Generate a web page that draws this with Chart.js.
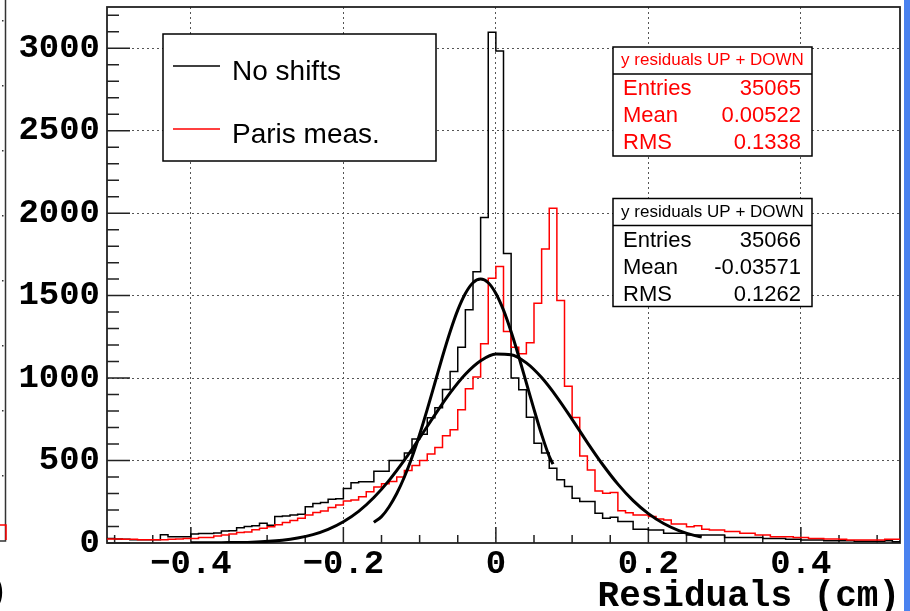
<!DOCTYPE html>
<html>
<head>
<meta charset="utf-8">
<script src="https://cdn.jsdelivr.net/npm/chart.js@4.4.1/dist/chart.umd.min.js"></script>
<style>
  html, body { margin: 0; padding: 0; background: #fff; }
  canvas { display: block; }
</style>
</head>
<body>
<canvas id="residualsChart" width="910" height="611"></canvas>
<script>
// histogram binning (cm)
const binLow = -0.51;
const binWidth = 0.01;

// "No shifts" entries per bin
const noShifts = [
  28, 25, 22, 20, 20, 20, 20, 50, 38, 38,
  38, 55, 58, 58, 60, 73, 75, 93, 100, 105,
  119, 108, 160, 164, 170, 175, 220, 240, 245, 265,
  268, 330, 365, 372, 372, 435, 435, 500, 500, 545,
  630, 660, 760, 820, 930, 1040, 1187, 1415, 1645, 1974,
  3097, 2983, 1756, 1000, 929, 763, 605, 545, 453, 383,
  342, 271, 251, 251, 180, 150, 156, 130, 130, 83,
  83, 79, 79, 59, 59, 59, 49, 49, 49, 49,
  49, 34, 34, 34, 34, 34, 28, 28, 28, 22,
  22, 18, 18, 18, 14, 14, 14, 14, 10, 10,
  10, 10, 14, 8
];

// "Paris meas." entries per bin
const parisMeas = [
  25, 24, 22, 22, 20, 20, 20, 20, 22, 24,
  28, 28, 34, 34, 43, 49, 55, 63, 67, 80,
  89, 99, 110, 124, 136, 150, 170, 185, 194, 215,
  231, 255, 261, 281, 310, 340, 360, 373, 400, 440,
  470, 500, 540, 579, 650, 686, 808, 935, 1006, 1208,
  1605, 1677, 1282, 1187, 1147, 1214, 1454, 1782, 2030, 1470,
  950, 761, 528, 443, 316, 302, 306, 196, 184, 170,
  170, 160, 146, 140, 115, 115, 99, 105, 83, 79,
  79, 69, 69, 59, 59, 49, 49, 38, 38, 38,
  34, 34, 28, 28, 24, 24, 22, 18, 18, 18,
  18, 18, 22, 22
];

// gaussian fit curves
const fitNarrowX = [-0.16, -0.15, -0.14, -0.13, -0.12, -0.11, -0.10, -0.09, -0.08, -0.07, -0.06, -0.05, -0.04,
  -0.03, -0.02, -0.01, 0.00, 0.01, 0.02, 0.03, 0.04, 0.05, 0.06, 0.07, 0.075];
const fitNarrowY = [125, 160, 220, 300, 400, 520, 658, 810, 970, 1131, 1281, 1412, 1513,
  1578, 1600, 1578, 1513, 1412, 1281, 1131, 970, 810, 658, 525, 478];

const fitWideX = [-0.40, -0.36, -0.32, -0.28, -0.26, -0.24, -0.22, -0.20, -0.18, -0.16, -0.14, -0.12, -0.10,
  -0.08, -0.06, -0.04, -0.02, 0.00, 0.02, 0.04, 0.06, 0.08, 0.10, 0.12, 0.14, 0.16, 0.18, 0.20, 0.22,
  0.24, 0.26, 0.27];
const fitWideY = [1, 2, 5, 17, 30, 51, 83, 129, 192, 276, 380, 502, 637,
  777, 910, 1023, 1105, 1146, 1142, 1092, 1003, 885, 750, 609, 476, 357, 257, 178, 118,
  75, 46, 36];

const xTicks = [-0.4, -0.2, 0, 0.2, 0.4];
const xTickLabels = ['\u22120.4', '\u22120.2', '0', '0.2', '0.4'];
const yTicks = [0, 500, 1000, 1500, 2000, 2500, 3000];

const statsTitle = 'y residuals UP + DOWN';
const statsParis = [['Entries', '35065'], ['Mean', '0.00522'], ['RMS', '0.1338']];
const statsNoShift = [['Entries', '35066'], ['Mean', '-0.03571'], ['RMS', '0.1262']];

// bin contents -> points at the low edge of each bin, plus the closing edge
function histPoints(values) {
  const pts = values.map((v, i) => ({ x: binLow + i * binWidth, y: v }));
  pts.push({ x: binLow + values.length * binWidth, y: values[values.length - 1] });
  return pts;
}

function curvePoints(xs, ys) {
  return xs.map((x, i) => ({ x: x, y: ys[i] }));
}

const axisFont = { family: 'Liberation Mono', size: 34, weight: 'bold' };

// ROOT-like pad: frame, inward ticks, legend and stat boxes
const rootPad = {
  id: 'rootPad',
  beforeDraw(chart) {
    const ctx = chart.ctx;
    ctx.save();
    ctx.fillStyle = '#fff';
    ctx.fillRect(0, 0, chart.width, chart.height);
    // edge of the window on the right
    ctx.fillStyle = '#4a82ef';
    ctx.fillRect(904, 0, 6, chart.height);
    // neighbouring pad cut off at the left
    ctx.strokeStyle = '#333';
    ctx.lineWidth = 1.5;
    ctx.beginPath();
    ctx.moveTo(5.5, 0);
    ctx.lineTo(5.5, 541);
    ctx.lineTo(0, 541);
    ctx.stroke();
    ctx.fillStyle = '#333';
    for (let y = 20; y < 540; y += 65) ctx.fillRect(2, y, 1.5, 1.5);
    ctx.strokeStyle = '#f00';
    ctx.beginPath();
    ctx.moveTo(0, 525);
    ctx.lineTo(6, 525);
    ctx.lineTo(6, 540);
    ctx.stroke();
    ctx.fillStyle = '#000';
    ctx.font = 'bold 34px "Liberation Mono"';
    ctx.textAlign = 'right';
    ctx.textBaseline = 'middle';
    ctx.fillText(')', 8, 592);
    ctx.restore();
  },
  beforeDatasetsDraw(chart) {
    const { ctx, chartArea: a, scales } = chart;
    ctx.save();
    ctx.strokeStyle = '#222';
    ctx.lineWidth = 1.5;
    ctx.beginPath();
    for (let i = -10; i <= 10; i++) {
      const px = scales.x.getPixelForValue(i * 0.05);
      const len = i % 4 === 0 ? 16 : 8;
      ctx.moveTo(px, a.bottom);
      ctx.lineTo(px, a.bottom - len);
    }
    for (let v = 0; v <= 3200; v += 100) {
      const py = scales.y.getPixelForValue(v);
      const len = v % 500 === 0 ? 23 : 12;
      ctx.moveTo(a.left, py);
      ctx.lineTo(a.left + len, py);
    }
    ctx.stroke();
    ctx.lineWidth = 1.8;
    ctx.strokeRect(a.left, a.top, a.right - a.left, a.bottom - a.top);
    ctx.restore();
  },
  afterDatasetsDraw(chart) {
    const ctx = chart.ctx;
    ctx.save();
    // legend
    ctx.fillStyle = '#fff';
    ctx.fillRect(163, 34, 273, 127);
    ctx.strokeStyle = '#000';
    ctx.lineWidth = 1.5;
    ctx.strokeRect(163, 34, 273, 127);
    const keyed = chart.data.datasets.filter(d => d.inKey);
    ctx.font = '28px "Liberation Sans"';
    ctx.textAlign = 'left';
    ctx.textBaseline = 'alphabetic';
    keyed.forEach((d, i) => {
      const y = 66 + i * 63;
      ctx.strokeStyle = d.borderColor;
      ctx.lineWidth = 1.5;
      ctx.beginPath();
      ctx.moveTo(173, y);
      ctx.lineTo(220, y);
      ctx.stroke();
      ctx.fillStyle = '#000';
      ctx.fillText(d.label, 232, y + 14);
    });
    drawStats(ctx, 613, 47, 109, 27, '#f00', statsParis);
    drawStats(ctx, 613, 198.5, 108, 27, '#000', statsNoShift);
    ctx.restore();
  }
};

function drawStats(ctx, x, y, h, headH, color, rows) {
  const w = 199;
  ctx.fillStyle = '#fff';
  ctx.fillRect(x, y, w, h);
  ctx.strokeStyle = '#000';
  ctx.lineWidth = 1.5;
  ctx.strokeRect(x, y, w, h);
  ctx.beginPath();
  ctx.moveTo(x, y + headH);
  ctx.lineTo(x + w, y + headH);
  ctx.stroke();
  ctx.fillStyle = color;
  ctx.textBaseline = 'alphabetic';
  ctx.font = '17px "Liberation Sans"';
  ctx.textAlign = 'center';
  ctx.fillText(statsTitle, x + w / 2, y + 18);
  ctx.font = '22px "Liberation Sans"';
  rows.forEach((r, i) => {
    const by = y + 48 + i * 27;
    ctx.textAlign = 'left';
    ctx.fillText(r[0], x + 10, by);
    ctx.textAlign = 'right';
    ctx.fillText(r[1], x + 188, by);
  });
}

new Chart(document.getElementById('residualsChart'), {
  type: 'line',
  data: {
    datasets: [
      {
        label: 'No shifts',
        inKey: true,
        data: histPoints(noShifts),
        borderColor: '#000',
        borderWidth: 1.5,
        stepped: true,
        pointRadius: 0,
        order: 2
      },
      {
        label: 'Paris meas.',
        inKey: true,
        data: histPoints(parisMeas),
        borderColor: '#ff0000',
        borderWidth: 1.5,
        stepped: true,
        pointRadius: 0,
        order: 1
      },
      {
        label: 'fit',
        data: curvePoints(fitNarrowX, fitNarrowY),
        borderColor: '#000',
        borderWidth: 3,
        cubicInterpolationMode: 'monotone',
        pointRadius: 0,
        order: 0
      },
      {
        label: 'fit',
        data: curvePoints(fitWideX, fitWideY),
        borderColor: '#000',
        borderWidth: 3,
        cubicInterpolationMode: 'monotone',
        pointRadius: 0,
        order: 0
      }
    ]
  },
  options: {
    responsive: false,
    animation: false,
    devicePixelRatio: 1,
    layout: { padding: { left: 0, right: 10, top: 7, bottom: 0 } },
    plugins: {
      legend: { display: false },
      tooltip: { enabled: false }
    },
    scales: {
      x: {
        type: 'linear',
        min: -0.51,
        max: 0.53,
        afterBuildTicks: axis => { axis.ticks = xTicks.map(v => ({ value: v })); },
        afterFit: axis => {
          axis.height = 68;
          axis.paddingLeft = 0;
          axis.paddingRight = 0;
        },
        ticks: {
          color: '#000',
          font: axisFont,
          padding: 1,
          maxRotation: 0,
          callback: (v, i) => xTickLabels[i]
        },
        grid: { color: '#555', lineWidth: 1, drawTicks: false },
        border: { display: false, dash: [2, 3] },
        title: {
          display: true,
          text: 'Residuals (cm)',
          align: 'end',
          color: '#000',
          font: { family: 'Liberation Mono', size: 36, weight: 'bold', lineHeight: 0.8 },
          padding: { top: 0, bottom: 0 }
        }
      },
      y: {
        min: 0,
        max: 3250,
        afterBuildTicks: axis => { axis.ticks = yTicks.map(v => ({ value: v })); },
        afterFit: axis => {
          axis.width = 107;
          axis.paddingTop = 0;
          axis.paddingBottom = 0;
        },
        ticks: {
          color: '#000',
          font: axisFont,
          padding: 7,
          callback: v => String(v)
        },
        grid: {
          color: ctx => ctx.tick && ctx.tick.value === 0 ? 'rgba(0,0,0,0)' : '#555',
          lineWidth: 1,
          drawTicks: false
        },
        border: { display: false, dash: [2, 3] }
      }
    }
  },
  plugins: [rootPad]
});
</script>
</body>
</html>
